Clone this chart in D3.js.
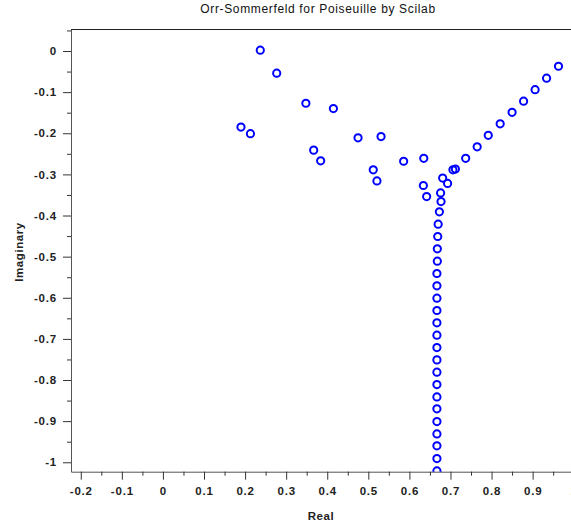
<!DOCTYPE html>
<html>
<head>
<meta charset="utf-8">
<script src="https://cdn.jsdelivr.net/npm/d3@7"></script>
<style>
  body { margin: 0; background: #fff; }
  svg { display: block; font-family: "Liberation Sans", Arial, sans-serif; }
</style>
</head>
<body>
<div id="chart"></div>
<script>
// eigenvalues (real part, imaginary part)
const realPart = [
  0.237, 0.277, 0.348, 0.415, 0.190, 0.213, 0.367, 0.384, 0.475, 0.531,
  0.512, 0.521, 0.586, 0.635, 0.634, 0.642, 0.681, 0.693, 0.706, 0.712,
  0.737, 0.765, 0.792, 0.821, 0.850, 0.878, 0.906, 0.934, 0.963,
  0.676, 0.677, 0.673, 0.670, 0.669, 0.668, 0.668, 0.667, 0.667, 0.667,
  0.667, 0.667, 0.667, 0.667, 0.667, 0.667, 0.667, 0.667, 0.667, 0.667,
  0.667, 0.667, 0.667, 0.667, 0.667
];
const imagPart = [
  0.002, -0.054, -0.127, -0.140, -0.185, -0.201, -0.241, -0.267, -0.211, -0.208,
  -0.289, -0.316, -0.268, -0.261, -0.327, -0.354, -0.309, -0.322, -0.289, -0.287,
  -0.261, -0.233, -0.205, -0.177, -0.149, -0.122, -0.094, -0.066, -0.037,
  -0.345, -0.366, -0.391, -0.421, -0.451, -0.481, -0.511, -0.541, -0.571, -0.601,
  -0.631, -0.661, -0.691, -0.721, -0.751, -0.781, -0.811, -0.841, -0.870, -0.901,
  -0.931, -0.960, -0.991, -1.021, -1.052
];

const xTicks = [-0.2, -0.1, 0, 0.1, 0.2, 0.3, 0.4, 0.5, 0.6, 0.7, 0.8, 0.9, 1.0];
const xTickLabels = ["-0.2", "-0.1", "0", "0.1", "0.2", "0.3", "0.4", "0.5", "0.6", "0.7", "0.8", "0.9", "1"];
const yTicks = [0, -0.1, -0.2, -0.3, -0.4, -0.5, -0.6, -0.7, -0.8, -0.9, -1];
const yTickLabels = ["0", "-0.1", "-0.2", "-0.3", "-0.4", "-0.5", "-0.6", "-0.7", "-0.8", "-0.9", "-1"];

const data = realPart.map((r, i) => ({ re: r, im: imagPart[i] }));

const width = 571;
const height = 526;
const marginLeft = 71;
const marginTop = 29.5;
const plotRight = 588;
const plotBottom = 471.7;

const x = d3.scaleLinear([-0.2238, 1.0348], [marginLeft, plotRight]);
const y = d3.scaleLinear([-1.0229, 0.0523], [plotBottom, marginTop]);

const svg = d3.select("#chart")
  .append("svg")
  .attr("width", width)
  .attr("height", height)
  .attr("viewBox", [0, 0, width, height]);

// title
svg.append("text")
  .attr("x", 318)
  .attr("y", 13)
  .attr("text-anchor", "middle")
  .attr("font-size", 12)
  .attr("letter-spacing", 0.65)
  .attr("fill", "#111")
  .text("Orr-Sommerfeld for Poiseuille by Scilab");

// top border of the box
svg.append("line")
  .attr("x1", marginLeft).attr("x2", plotRight)
  .attr("y1", marginTop).attr("y2", marginTop)
  .attr("stroke", "#222");

// minor ticks halfway between majors
const xMinor = xTicks.map(v => v + 0.05).filter(v => v < 1.03);
const yMinor = yTicks.map(v => v + 0.05);

const gx = svg.append("g")
  .attr("transform", `translate(0,${plotBottom})`)
  .call(d3.axisBottom(x).tickValues(xTicks).tickSize(8).tickPadding(7)
    .tickFormat((d, i) => xTickLabels[i]).tickSizeOuter(0));
gx.append("g")
  .call(d3.axisBottom(x).tickValues(xMinor).tickSize(4).tickFormat("").tickSizeOuter(0))
  .call(g => g.select(".domain").remove());

const gy = svg.append("g")
  .attr("transform", `translate(${marginLeft},0)`)
  .call(d3.axisLeft(y).tickValues(yTicks).tickSize(8).tickPadding(6)
    .tickFormat((d, i) => yTickLabels[i]).tickSizeOuter(0));
gy.append("g")
  .call(d3.axisLeft(y).tickValues(yMinor).tickSize(4).tickFormat("").tickSizeOuter(0))
  .call(g => g.select(".domain").remove());

[gx, gy].forEach(g => {
  g.selectAll("text")
    .attr("font-family", "Liberation Sans, Arial, sans-serif")
    .attr("font-size", 11.5)
    .attr("letter-spacing", 0.8)
    .attr("font-weight", "bold")
    .attr("fill", "#222");
  g.selectAll("line").attr("stroke", "#333");
  g.selectAll(".domain").attr("stroke", "#555");
});

// axis labels
svg.append("text")
  .attr("x", 321)
  .attr("y", 520)
  .attr("text-anchor", "middle")
  .attr("font-size", 11.5)
  .attr("letter-spacing", 0.6)
  .attr("font-weight", "bold")
  .attr("fill", "#222")
  .text("Real");

svg.append("text")
  .attr("transform", `translate(23,252) rotate(-90)`)
  .attr("text-anchor", "middle")
  .attr("font-size", 11.5)
  .attr("letter-spacing", 0.6)
  .attr("font-weight", "bold")
  .attr("fill", "#222")
  .text("Imaginary");

// clip the markers to the plot box
svg.append("clipPath")
  .attr("id", "plot-clip")
  .append("rect")
  .attr("x", marginLeft)
  .attr("y", marginTop)
  .attr("width", plotRight - marginLeft)
  .attr("height", plotBottom - marginTop);

svg.append("g")
  .attr("clip-path", "url(#plot-clip)")
  .selectAll("circle")
  .data(data)
  .join("circle")
  .attr("cx", d => x(d.re))
  .attr("cy", d => y(d.im))
  .attr("r", 3.6)
  .attr("fill", "none")
  .attr("stroke", "#0000ff")
  .attr("stroke-width", 2);
</script>
</body>
</html>
